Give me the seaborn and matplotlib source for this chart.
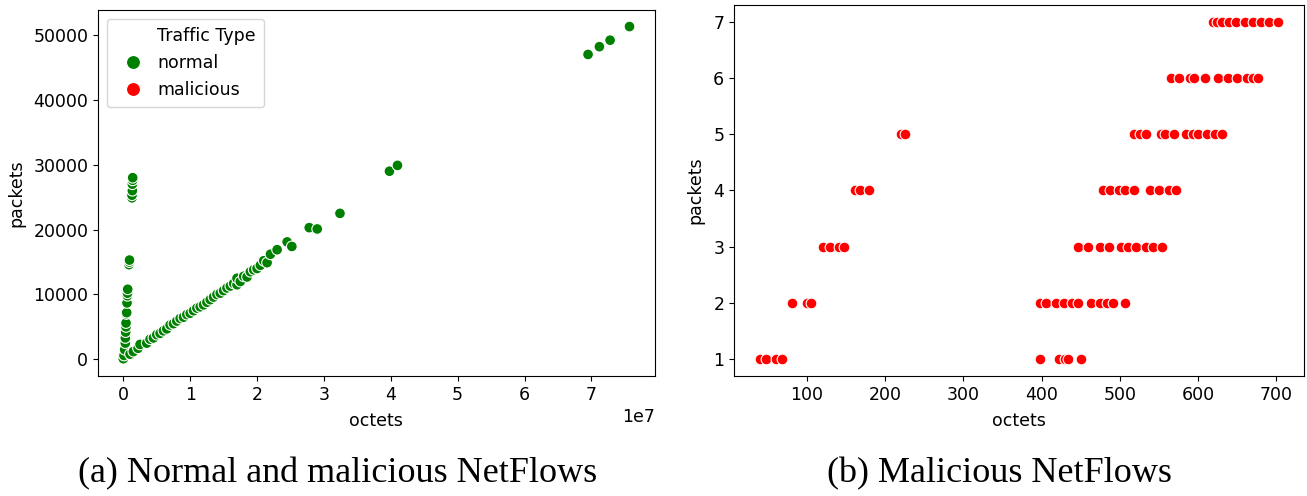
import numpy as np
import pandas as pd
import seaborn as sns
import matplotlib.pyplot as plt

# normal flows (octets, packets)
normal_octets = [0.0e6, 0.1e6, 0.2e6, 0.3e6, 0.3e6, 0.35e6, 0.4e6, 0.4e6, 0.45e6, 0.5e6,
                 0.55e6, 0.6e6, 0.62e6, 0.65e6, 0.85e6, 0.9e6, 0.92e6, 1.3e6, 1.3e6, 1.35e6,
                 1.35e6, 1.4e6, 1.4e6,
                 1.0e6, 1.5e6, 2.2e6, 2.5e6, 3.5e6, 4.0e6, 4.5e6, 5.0e6, 5.5e6, 6.0e6,
                 6.5e6, 7.0e6, 7.5e6, 8.0e6, 8.5e6, 9.0e6, 9.5e6, 10.0e6, 10.5e6, 11.0e6,
                 11.5e6, 12.0e6, 12.5e6, 13.0e6, 13.5e6, 14.0e6, 14.5e6, 15.0e6, 15.5e6, 16.0e6,
                 16.5e6, 17.0e6, 17.0e6, 17.5e6, 18.0e6, 18.5e6, 19.0e6, 19.5e6, 20.0e6, 20.5e6,
                 21.0e6, 21.5e6, 22.0e6, 23.0e6, 24.5e6, 25.2e6,
                 27.8e6, 29.0e6, 32.4e6, 39.8e6, 41.0e6, 69.5e6, 71.2e6, 72.8e6, 75.7e6]
normal_packets = [100, 600, 1500, 2500, 3300, 4200, 5000, 5600, 7000, 7200,
                  8700, 9800, 10200, 10800, 14600, 15000, 15300, 24900, 25300, 26000,
                  27000, 27600, 28000,
                  800, 1200, 1700, 2300, 2500, 3100, 3300, 3800, 4000, 4400,
                  4700, 5300, 5500, 5900, 6300, 6500, 6900, 7100, 7500, 7900,
                  8100, 8400, 8800, 9200, 9600, 10000, 10200, 10600, 11000, 11300,
                  11700, 11500, 12500, 12000, 12800, 12700, 13500, 13800, 14000, 14500,
                  15200, 14900, 16200, 16900, 18100, 17400,
                  20300, 20100, 22500, 29000, 29900, 47000, 48200, 49200, 51300]

# malicious flows
mal_octets = [40, 48, 61, 68, 398, 422, 430, 434, 450,
              81, 100, 105, 398, 406, 419, 429, 439, 446, 463, 475, 483, 491, 506,
              121, 129, 141, 148, 447, 459, 475, 486, 502, 510, 521, 534, 542, 554,
              161, 168, 180, 478, 487, 499, 507, 518, 538, 550, 563, 572,
              220, 226, 518, 526, 534, 553, 558, 569, 585, 593, 600, 611, 622, 631,
              565, 575, 590, 595, 609, 625, 638, 650, 662, 670, 676,
              619, 624, 631, 640, 648, 660, 670, 680, 690, 702]
mal_packets = [1] * 9 + [2] * 14 + [3] * 14 + [4] * 12 + [5] * 14 + [6] * 11 + [7] * 10

traffic_order = ['normal', 'malicious']
colors = {'normal': 'green', 'malicious': 'red'}

mal_df = pd.DataFrame({'octets': mal_octets, 'packets': mal_packets, 'Traffic Type': 'malicious'})
norm_df = pd.DataFrame({'octets': normal_octets, 'packets': normal_packets, 'Traffic Type': 'normal'})
# malicious rows first so the green points sit on top near the origin
all_df = pd.concat([mal_df, norm_df], ignore_index=True)

plt.rcParams['font.size'] = 12.5
plt.rcParams['axes.labelpad'] = 6

fig = plt.figure(figsize=(13.07, 4.96), dpi=100)
ax1 = fig.add_axes([0.075, 0.242, 0.426, 0.738])
ax2 = fig.add_axes([0.5616, 0.242, 0.436, 0.748])

# panel (a)
sns.scatterplot(data=all_df, x='octets', y='packets', hue='Traffic Type',
                hue_order=traffic_order, palette=colors, s=60, edgecolor='white',
                linewidth=0.8, ax=ax1)
handles, labels = ax1.get_legend_handles_labels()
blank = plt.Line2D([], [], linestyle='none', marker='')
ax1.legend([blank] + handles, ['Traffic Type'] + labels, loc='upper left',
           markerscale=1.3, handletextpad=0.4, borderpad=0.5)
ax1.set_yticks([0, 10000, 20000, 30000, 40000, 50000])

# panel (b)
sns.scatterplot(data=mal_df, x='octets', y='packets', color='red', s=60,
                edgecolor='white', linewidth=0.8, ax=ax2)
ax2.set_xticks([100, 200, 300, 400, 500, 600, 700])

fig.text(0.258, 0.044, '(a) Normal and malicious NetFlows', ha='center', va='center',
         family='Liberation Serif', fontsize=26)
fig.text(0.765, 0.044, '(b) Malicious NetFlows', ha='center', va='center',
         family='Liberation Serif', fontsize=26)

fig.savefig('out.png', dpi=100)
